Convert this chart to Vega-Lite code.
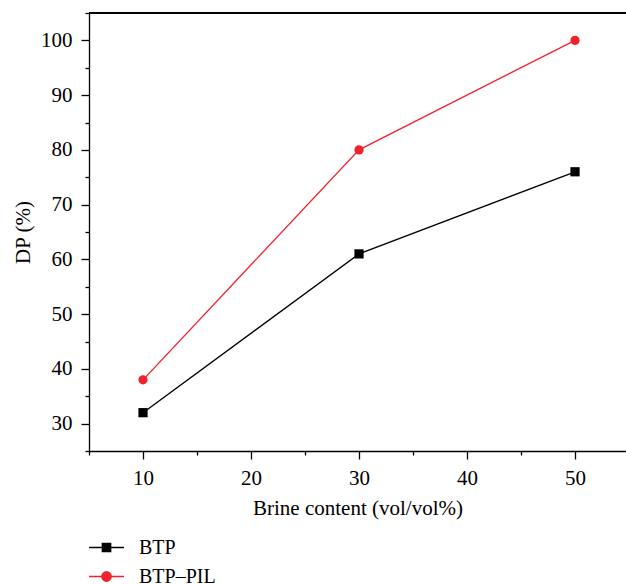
{
  "$schema": "https://vega.github.io/schema/vega-lite/v6.json",
  "width": 537,
  "height": 438,
  "autosize": {"type": "none"},
  "padding": {"left": 89, "top": 13, "right": 0, "bottom": 133},
  "background": "white",
  "config": {
    "view": {"stroke": null},
    "font": "Liberation Serif",
    "axis": {
      "grid": false,
      "domainColor": "black",
      "domainWidth": 1.3,
      "tickColor": "black",
      "tickWidth": 1.3,
      "tickSize": 8,
      "labelFont": "Liberation Serif",
      "labelFontSize": 21,
      "labelColor": "black",
      "titleFont": "Liberation Serif",
      "titleFontSize": 21,
      "titleFontWeight": "normal",
      "titleColor": "black"
    }
  },
  "data": {
    "values": [
      {"brine": 10, "dp": 32, "series": "BTP"},
      {"brine": 30, "dp": 61, "series": "BTP"},
      {"brine": 50, "dp": 76, "series": "BTP"},
      {"brine": 10, "dp": 38, "series": "BTP–PIL"},
      {"brine": 30, "dp": 80, "series": "BTP–PIL"},
      {"brine": 50, "dp": 100, "series": "BTP–PIL"}
    ]
  },
  "layer": [
    {
      "mark": {"type": "line", "strokeWidth": 1.3},
      "encoding": {
        "x": {"field": "brine", "type": "quantitative",
          "scale": {"domain": [5, 54.72], "nice": false, "zero": false},
          "axis": {"orient": "bottom", "values": [10, 20, 30, 40, 50], "title": "Brine content (vol/vol%)", "labelPadding": 8, "titlePadding": 9}},
        "y": {"field": "dp", "type": "quantitative",
          "scale": {"domain": [25, 105], "nice": false, "zero": false},
          "axis": {"orient": "left", "values": [30, 40, 50, 60, 70, 80, 90, 100], "title": "DP (%)", "labelPadding": 9, "titlePadding": 7}},
        "color": {"field": "series", "type": "nominal",
          "scale": {"domain": ["BTP", "BTP–PIL"], "range": ["#000000", "#f2222c"]},
          "legend": null}
      }
    },
    {
      "mark": {"type": "point", "opacity": 0, "strokeWidth": 1.3, "filled": true},
      "encoding": {
        "x": {"field": "brine", "type": "quantitative",
          "axis": {"orient": "bottom", "values": [5, 15, 25, 35, 45], "tickSize": 4, "labels": false, "domain": false, "title": null}},
        "y": {"field": "dp", "type": "quantitative",
          "axis": {"orient": "left", "values": [25, 35, 45, 55, 65, 75, 85, 95, 105], "tickSize": 4, "labels": false, "domain": false, "title": null}},
        "fill": {"field": "series", "type": "nominal",
          "scale": {"domain": ["BTP", "BTP–PIL"], "range": ["#000000", "#f2222c"]},
          "legend": {
            "title": null, "orient": "none", "legendX": -1, "legendY": 516, "padding": 0,
            "symbolSize": 1225, "symbolStrokeWidth": 1.3, "symbolOpacity": 1,
            "labelFont": "Liberation Serif", "labelFontSize": 20, "labelColor": "black",
            "labelOffset": 14, "rowPadding": -15
          }},
        "stroke": {"field": "series", "type": "nominal",
          "scale": {"domain": ["BTP", "BTP–PIL"], "range": ["#000000", "#f2222c"]},
          "legend": {
            "title": null, "orient": "none", "legendX": -1, "legendY": 516, "padding": 0,
            "symbolSize": 1225, "symbolStrokeWidth": 1.3, "symbolOpacity": 1,
            "labelFont": "Liberation Serif", "labelFontSize": 20, "labelColor": "black",
            "labelOffset": 14, "rowPadding": -15
          }},
        "shape": {"field": "series", "type": "nominal",
          "scale": {"domain": ["BTP", "BTP–PIL"],
            "range": ["M-1,0L1,0M-0.24,-0.24L0.24,-0.24L0.24,0.24L-0.24,0.24Z",
                      "M-1,0L1,0M0.27,0L0.25,0.1L0.19,0.19L0.1,0.25L0,0.27L-0.1,0.25L-0.19,0.19L-0.25,0.1L-0.27,0L-0.25,-0.1L-0.19,-0.19L-0.1,-0.25L0,-0.27L0.1,-0.25L0.19,-0.19L0.25,-0.1Z"]},
          "legend": {
            "title": null, "orient": "none", "legendX": -1, "legendY": 516, "padding": 0,
            "symbolSize": 1225, "symbolStrokeWidth": 1.3, "symbolOpacity": 1,
            "labelFont": "Liberation Serif", "labelFontSize": 20, "labelColor": "black",
            "labelOffset": 14, "rowPadding": -15
          }}
      }
    },
    {
      "transform": [{"filter": "datum.series === 'BTP'"}],
      "mark": {"type": "point", "shape": "square", "filled": true, "opacity": 1, "size": 85, "color": "#000000"},
      "encoding": {
        "x": {"field": "brine", "type": "quantitative", "axis": null},
        "y": {"field": "dp", "type": "quantitative", "axis": null}
      }
    },
    {
      "transform": [{"filter": "datum.series === 'BTP–PIL'"}],
      "mark": {"type": "point", "shape": "circle", "filled": true, "opacity": 1, "size": 85, "color": "#f2222c"},
      "encoding": {
        "x": {"field": "brine", "type": "quantitative", "axis": null},
        "y": {"field": "dp", "type": "quantitative", "axis": null}
      }
    },
    {
      "mark": {"type": "rule", "color": "black", "strokeWidth": 1.3},
      "encoding": {
        "y": {"datum": 105, "type": "quantitative", "axis": null}
      }
    }
  ],
  "resolve": {
    "scale": {"fill": "independent", "stroke": "independent", "shape": "independent"},
    "legend": {"fill": "independent", "stroke": "independent", "shape": "independent"},
    "axis": {"x": "independent", "y": "independent"}
  }
}
